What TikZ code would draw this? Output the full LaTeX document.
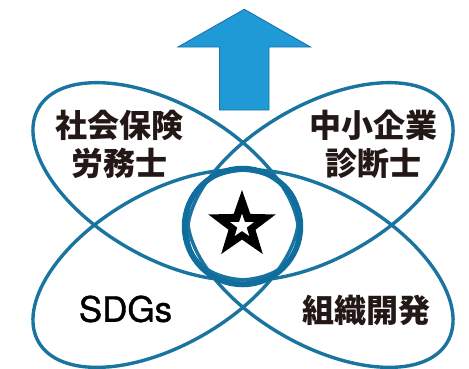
\documentclass[tikz,border=0pt]{standalone}
\usepackage{fontspec}
\usetikzlibrary{shapes.geometric}
\newfontfamily\jpfont{Noto Sans CJK JP}
\newfontfamily\latinsans{TeX Gyre Heros}[FakeBold=1.2]
\definecolor{ringblue}{HTML}{1A74A0}
\definecolor{circblue}{HTML}{0F6E9E}
\definecolor{arrowfill}{HTML}{1F9AD6}
\definecolor{arrowedge}{HTML}{1A72A8}
\definecolor{inkdark}{HTML}{231815}
\tikzset{
  petal/.style={draw=ringblue, line width=3.4pt},
  hub/.style={draw=circblue, line width=5.5pt},
  jplabel/.style={font=\jpfont\bfseries\fontsize{32pt}{38pt}\selectfont, text=inkdark, align=center, inner sep=0pt},
  enlabel/.style={font=\latinsans\fontsize{35pt}{40pt}\selectfont, text=black, inner sep=0pt},
}
\begin{document}
\begin{tikzpicture}
\useasboundingbox (0pt,0pt) rectangle (469pt,-368pt);
% petals (four tilted ellipses)
\coordinate (cUL) at (165.7pt,-181.4pt);
\coordinate (cUR) at (320.3pt,-181.4pt);
\coordinate (cLL) at (165.7pt,-268.6pt);
\coordinate (cLR) at (320.3pt,-268.6pt);
\draw[petal, rotate around={-30:(cUL)}] (cUL) ellipse [x radius=146.8pt, y radius=76.3pt];
\draw[petal, rotate around={30:(cUR)}] (cUR) ellipse [x radius=146.8pt, y radius=76.3pt];
\draw[petal, rotate around={30:(cLL)}] (cLL) ellipse [x radius=146.8pt, y radius=76.3pt];
\draw[petal, rotate around={-30:(cLR)}] (cLR) ellipse [x radius=146.8pt, y radius=76.3pt];
% central circle
\node[hub, circle, minimum size=116pt, inner sep=0pt] (hub) at (242.5pt,-226.5pt) {};
% star
\node[star, star points=5, star point ratio=2.5, minimum size=70.8pt, inner sep=0pt, fill=black] (starout) at (242pt,-225.4pt) {};
\node[star, star points=5, star point ratio=2.5, minimum size=24.5pt, inner sep=0pt, fill=white] (starin) at (242pt,-226pt) {};
% arrow
\draw[fill=arrowfill, draw=arrowedge, line width=0.9pt, line join=miter]
  (244.3pt,-9.3pt) coordinate (tip) -- (178pt,-47pt) -- (219.5pt,-47pt) -- (219.5pt,-110pt)
  -- (269pt,-110pt) -- (269pt,-47pt) -- (310.5pt,-47pt) -- cycle;
% labels
\node[jplabel] (sr) at (120pt,-144pt) {社会保険\\労務士};
\node[jplabel] (ch) at (373pt,-144pt) {中小企業\\診断士};
\node[enlabel] (sdg) at (125.5pt,-309pt) {SDGs};
\node[jplabel] (so) at (366pt,-310pt) {組織開発};
\end{tikzpicture}
\end{document}
